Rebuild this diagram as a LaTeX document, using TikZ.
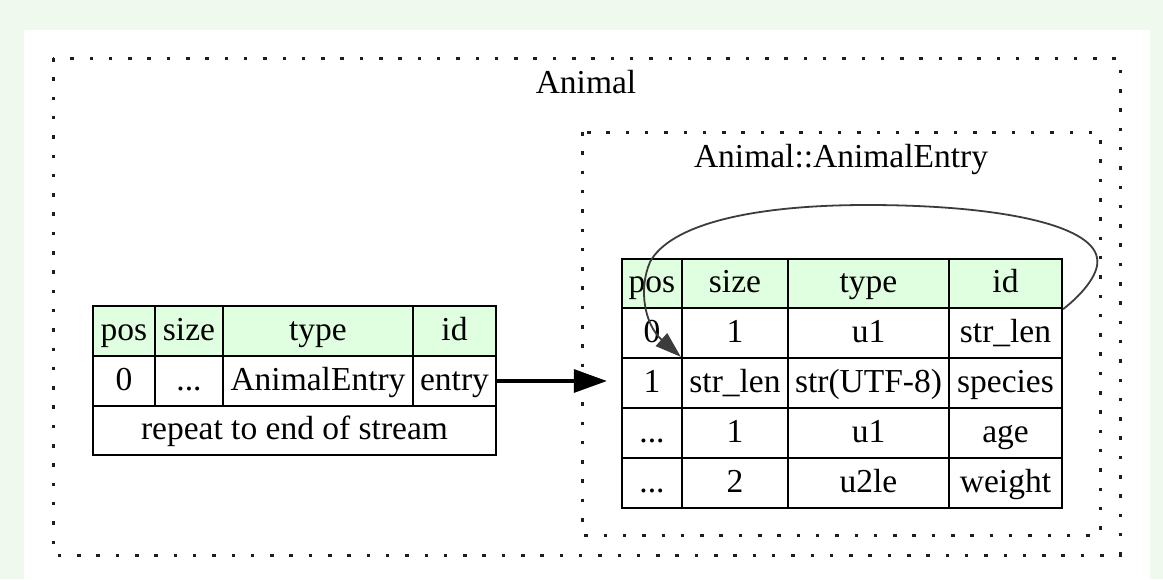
\documentclass[tikz,border=0pt]{standalone}
\usepackage{fontspec}
\setmainfont{Liberation Serif}
\usetikzlibrary{arrows.meta}
\definecolor{pagebg}{RGB}{239,249,237}
\definecolor{hdrfill}{RGB}{224,255,224}
\definecolor{dotcol}{RGB}{30,30,30}
\definecolor{loopcol}{RGB}{60,60,60}
\begin{document}
\begin{tikzpicture}[x=1pt,y=-1pt,
  every node/.style={font=\fontsize{33.5}{40}\selectfont},
  cell/.style={draw=black, line width=2.3pt, inner sep=0pt, anchor=center,
    text height=24pt, text depth=6pt},
  hdr/.style={cell, fill=hdrfill},
  body/.style={cell, fill=white},
  cluster/.style={draw=dotcol, line width=3pt, dash pattern=on 3.5pt off 15.8pt},
  title/.style={inner sep=0pt, text height=24pt, text depth=6pt}
]
\useasboundingbox (0,0) rectangle (1163,579);
\fill[pagebg] (0,0) rectangle (1163,579);
\fill[white] (24,30) rectangle (1150,579);

% clusters
\draw[cluster] (53,58) rectangle (1120,555);
\node[title] (tAnimal) at (586,84) {Animal};
\draw[cluster] (582,132) rectangle (1100,535);
\node[title] (tEntry) at (841,158) {Animal::AnimalEntry};

% left table
\node[hdr, minimum width=62pt, minimum height=50pt] (lp0) at (124,331) {pos};
\node[hdr, minimum width=68pt, minimum height=50pt] (ls0) at (189,331) {size};
\node[hdr, minimum width=190pt, minimum height=50pt] (lt0) at (318,331) {type};
\node[hdr, minimum width=83pt, minimum height=50pt] (li0) at (454.5,331) {id};
\node[body, minimum width=62pt, minimum height=50pt] (lp1) at (124,381) {0};
\node[body, minimum width=68pt, minimum height=50pt] (ls1) at (189,381) {...};
\node[body, minimum width=190pt, minimum height=50pt] (lt1) at (318,381) {AnimalEntry};
\node[body, minimum width=83pt, minimum height=50pt] (li1) at (454.5,381) {entry};
\node[body, minimum width=403pt, minimum height=49pt] (lrep) at (294.5,430.5) {repeat to end of stream};

% right table
\node[hdr, minimum width=60pt, minimum height=49pt] (rp0) at (652,283.5) {pos};
\node[hdr, minimum width=106pt, minimum height=49pt] (rs0) at (735,283.5) {size};
\node[hdr, minimum width=161pt, minimum height=49pt] (rt0) at (868.5,283.5) {type};
\node[hdr, minimum width=113pt, minimum height=49pt] (ri0) at (1005.5,283.5) {id};

\node[body, minimum width=60pt, minimum height=50pt] (rp1) at (652,333) {0};
\node[body, minimum width=106pt, minimum height=50pt] (rs1) at (735,333) {1};
\node[body, minimum width=161pt, minimum height=50pt] (rt1) at (868.5,333) {u1};
\node[body, minimum width=113pt, minimum height=50pt] (ri1) at (1005.5,333) {str\_len};

\node[body, minimum width=60pt, minimum height=50pt] (rp2) at (652,383) {1};
\node[body, minimum width=106pt, minimum height=50pt] (rs2) at (735,383) {str\_len};
\node[body, minimum width=161pt, minimum height=50pt] (rt2) at (868.5,383) {str(UTF-8)};
\node[body, minimum width=113pt, minimum height=50pt] (ri2) at (1005.5,383) {species};

\node[body, minimum width=60pt, minimum height=50pt] (rp3) at (652,433) {...};
\node[body, minimum width=106pt, minimum height=50pt] (rs3) at (735,433) {1};
\node[body, minimum width=161pt, minimum height=50pt] (rt3) at (868.5,433) {u1};
\node[body, minimum width=113pt, minimum height=50pt] (ri3) at (1005.5,433) {age};

\node[body, minimum width=60pt, minimum height=50pt] (rp4) at (652,483) {...};
\node[body, minimum width=106pt, minimum height=50pt] (rs4) at (735,483) {2};
\node[body, minimum width=161pt, minimum height=50pt] (rt4) at (868.5,483) {u2le};
\node[body, minimum width=113pt, minimum height=50pt] (ri4) at (1005.5,483) {weight};

% main arrow
\draw[line width=3.2pt, black, -{Triangle[length=33pt,width=23pt]}, shorten >=14pt]
  (li1.east) -- (li1.east -| rp2.west);

% loop arrow: from id header to str_len (size) of row 2
\draw[loopcol, line width=1.8pt, -{Triangle[length=26pt,width=17pt]}]
  (ri0.south east) .. controls (1085,292) and (1100,272) .. (1097,258)
  .. controls (1092,225) and (1000,205) .. (867,205)
  .. controls (750,205) and (670,225) .. (650,262)
  .. controls (638,290) and (645,325) .. (rs2.north west);
\end{tikzpicture}
\end{document}
